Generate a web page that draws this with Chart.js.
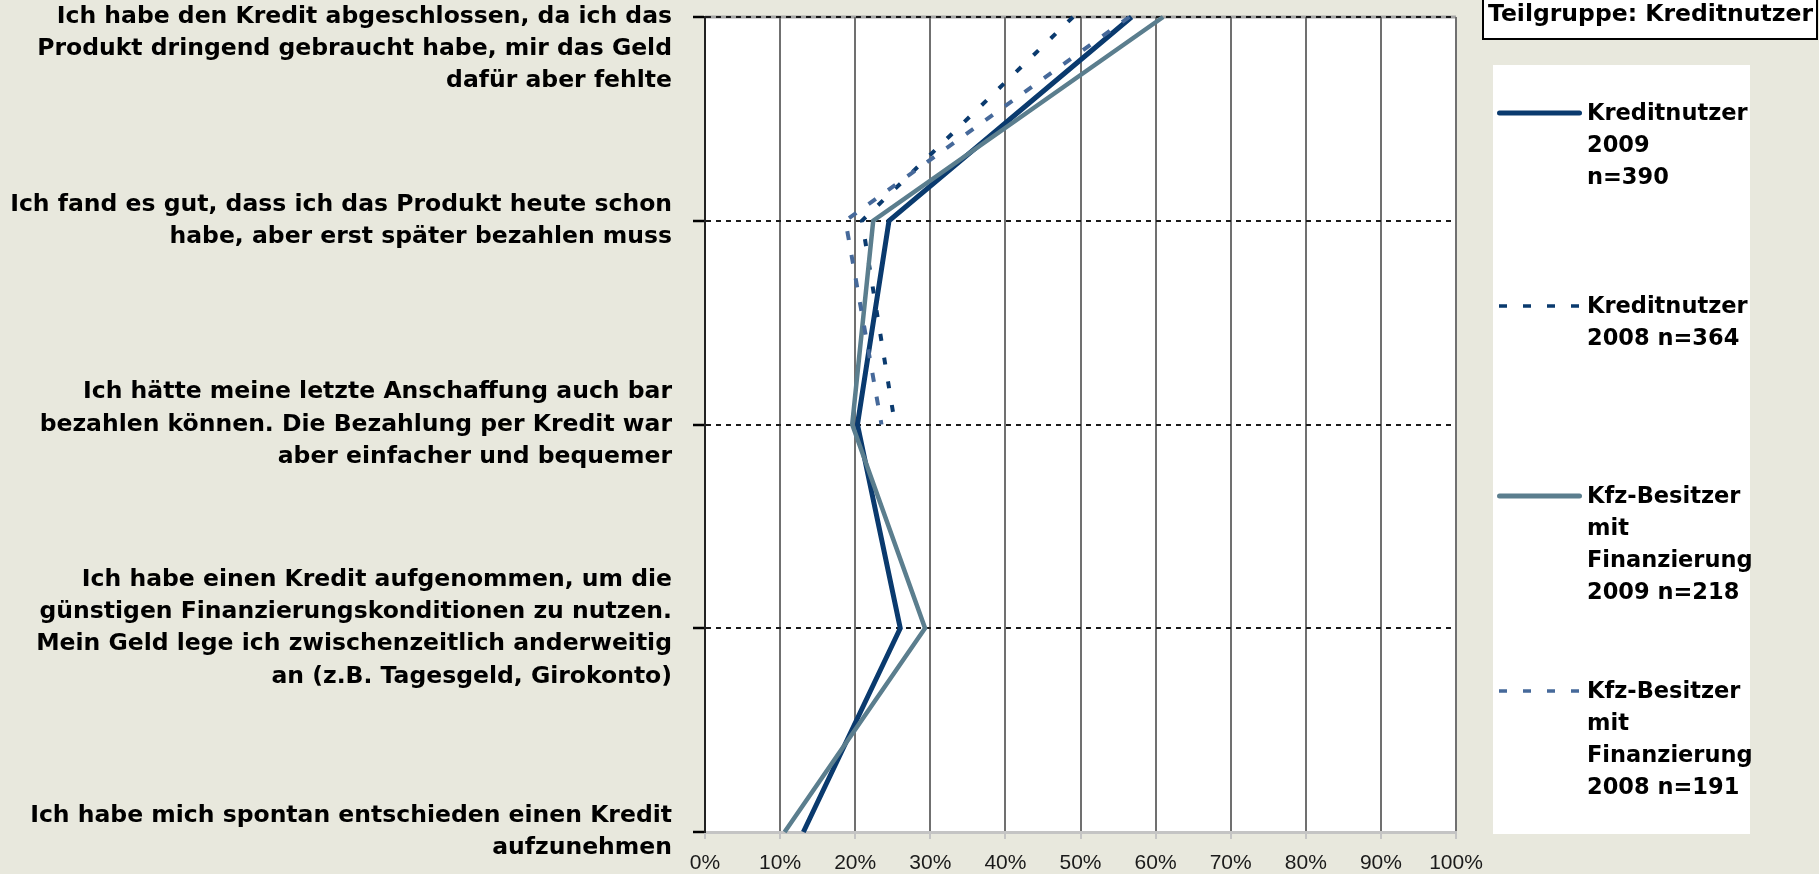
<!DOCTYPE html>
<html>
<head>
<meta charset="utf-8">
<script src="https://cdn.jsdelivr.net/npm/chart.js@4.4.1/dist/chart.umd.min.js"></script>
<style>
  html, body { margin: 0; padding: 0; background: #e8e8dd; overflow: hidden; }
  #chart { display: block; }
</style>
</head>
<body>
<canvas id="chart" width="1819" height="874"></canvas>
<script>
// statements (y categories), one array of lines per statement
const categories = [
  ['Ich habe den Kredit abgeschlossen, da ich das', 'Produkt dringend gebraucht habe, mir das Geld', 'dafür aber fehlte'],
  ['Ich fand es gut, dass ich das Produkt heute schon', 'habe, aber erst später bezahlen muss'],
  ['Ich hätte meine letzte Anschaffung auch bar', 'bezahlen können. Die Bezahlung per Kredit war', 'aber einfacher und bequemer'],
  ['Ich habe einen Kredit aufgenommen, um die', 'günstigen Finanzierungskonditionen zu nutzen.', 'Mein Geld lege ich zwischenzeitlich anderweitig', 'an (z.B. Tagesgeld, Girokonto)'],
  ['Ich habe mich spontan entschieden einen Kredit', 'aufzunehmen']
];

// shares in percent (2008 survey had only the first three statements)
const kredit2009 = [56.8, 24.5, 20.3, 26.0, 13.1];
const kredit2008 = [49.0, 20.9, 25.3, null, null];
const kfz2009 = [61.0, 22.4, 19.6, 29.3, 10.6];
const kfz2008 = [56.5, 18.7, 23.5, null, null];

const xTickValues = [0, 10, 20, 30, 40, 50, 60, 70, 80, 90, 100];

const seriesNames = [
  ['Kreditnutzer', '2009', 'n=390'],
  ['Kreditnutzer', '2008 n=364'],
  ['Kfz-Besitzer', 'mit', 'Finanzierung', '2009 n=218'],
  ['Kfz-Besitzer', 'mit', 'Finanzierung', '2008 n=191']
];
const subgroupTitle = 'Teilgruppe: Kreditnutzer';

const labelFamily = "'DejaVu Sans', Verdana, sans-serif";

// top label sits below its tick in the original, so push it down by two empty lines
const yLabels = categories.map((lines, i) => i === 0 ? ['', ''].concat(lines) : lines);

const backdrop = {
  id: 'backdrop',
  beforeDraw(chart) {
    const { ctx, chartArea: a } = chart;
    ctx.save();
    ctx.fillStyle = '#ffffff';
    ctx.fillRect(a.left, a.top, a.right - a.left, a.bottom - a.top);
    ctx.strokeStyle = '#a3a3a3';
    ctx.lineWidth = 3;
    ctx.beginPath();
    ctx.moveTo(a.left, a.top);
    ctx.lineTo(a.right, a.top);
    ctx.stroke();
    ctx.restore();
  }
};

const sideLegend = {
  id: 'sideLegend',
  afterDraw(chart) {
    const ctx = chart.ctx;
    ctx.save();
    // subgroup box
    ctx.fillStyle = '#ffffff';
    ctx.fillRect(1483, -2, 334, 41);
    ctx.strokeStyle = '#000000';
    ctx.lineWidth = 2;
    ctx.strokeRect(1483, -2, 334, 41);
    ctx.fillStyle = '#000000';
    ctx.font = 'bold 23.5px ' + labelFamily;
    ctx.textBaseline = 'middle';
    ctx.textAlign = 'left';
    ctx.fillText(subgroupTitle, 1488, 15);

    // legend panel
    ctx.fillStyle = '#ffffff';
    ctx.fillRect(1493, 65, 257, 769);
    const firstLine = [113, 306, 496, 691];
    chart.data.datasets.forEach((ds, i) => {
      const y = firstLine[i];
      const dashed = ds.borderDash.length > 0;
      ctx.strokeStyle = ds.borderColor;
      ctx.lineWidth = dashed ? 3.5 : 5;
      ctx.lineCap = dashed ? 'butt' : 'round';
      ctx.setLineDash(dashed ? [8, 16] : []);
      ctx.beginPath();
      ctx.moveTo(dashed ? 1499 : 1499.5, y);
      ctx.lineTo(dashed ? 1581 : 1579.5, y);
      ctx.stroke();
      ctx.setLineDash([]);
      ctx.fillStyle = '#000000';
      ctx.font = 'bold 22.5px ' + labelFamily;
      seriesNames[i].forEach((line, k) => ctx.fillText(line, 1587, y + 1 + k * 32));
    });
    ctx.restore();
  }
};

new Chart(document.getElementById('chart'), {
  type: 'line',
  data: {
    labels: yLabels,
    datasets: [
      { label: seriesNames[0].join(' '), data: kredit2009, borderColor: '#0a3a6e', borderWidth: 5, borderDash: [], order: 3 },
      { label: seriesNames[1].join(' '), data: kredit2008, borderColor: '#0a3a6e', borderWidth: 4, borderDash: [7, 17], order: 2 },
      { label: seriesNames[2].join(' '), data: kfz2009, borderColor: '#5b7e8e', borderWidth: 4.5, borderDash: [], order: 1 },
      { label: seriesNames[3].join(' '), data: kfz2008, borderColor: '#46699a', borderWidth: 4, borderDash: [9, 15], order: 0 }
    ]
  },
  options: {
    indexAxis: 'y',
    responsive: false,
    animation: false,
    layout: { padding: { top: 17, right: 363, bottom: 0, left: 0 } },
    elements: {
      point: { radius: 0, hoverRadius: 0 },
      line: { tension: 0, borderJoinStyle: 'miter', borderCapStyle: 'butt', fill: false }
    },
    plugins: { legend: { display: false }, tooltip: { enabled: false } },
    scales: {
      x: {
        type: 'linear',
        min: 0,
        max: 100,
        afterBuildTicks: s => { s.ticks = xTickValues.map(v => ({ value: v })); },
        afterFit: s => { s.height = 42; },
        grid: { color: '#707070', lineWidth: 2, tickColor: '#c4c4c4', tickLength: 7, tickWidth: 2 },
        border: { color: '#c4c4c4', width: 3 },
        ticks: {
          color: '#1a1a1a',
          padding: 12,
          maxRotation: 0,
          autoSkip: false,
          font: { family: "'Liberation Sans', Arial, sans-serif", size: 21 },
          callback: v => v + '%'
        }
      },
      y: {
        type: 'category',
        afterFit: s => { s.width = 705; s.paddingTop = 0; s.paddingBottom = 0; },
        grid: {
          color: c => c.index === categories.length - 1 ? 'rgba(0,0,0,0)' : '#1a1a1a',
          lineWidth: 2,
          tickColor: '#000000',
          tickLength: 12,
          tickWidth: 2.5
        },
        border: { color: '#222222', width: 2, dash: [5, 5] },
        ticks: {
          autoSkip: false,
          color: '#000000',
          padding: 21,
          font: { family: labelFamily, weight: 'bold', size: 23.5, lineHeight: 1.37 }
        }
      }
    }
  },
  plugins: [backdrop, sideLegend]
});
</script>
</body>
</html>
